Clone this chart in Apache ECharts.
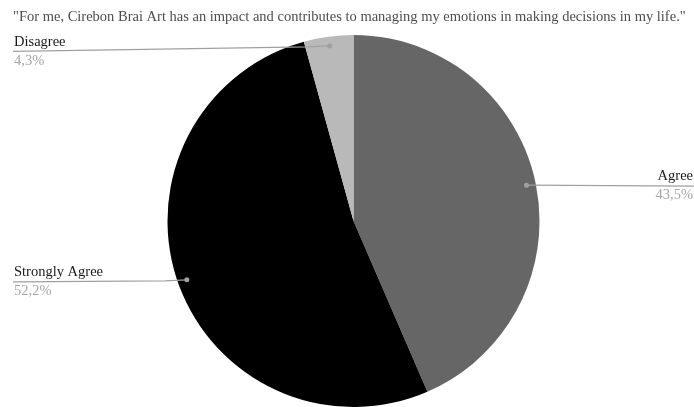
<!DOCTYPE html>
<html>
<head>
<meta charset="utf-8">
<script src="https://cdn.jsdelivr.net/npm/echarts@6/dist/echarts.min.js"></script>
<style>
  html, body { margin: 0; padding: 0; background: #fff; }
  #chart { width: 694px; height: 407px; }
</style>
</head>
<body>
<div id="chart"></div>
<script>
// Survey responses
const titleText = '"For me, Cirebon Brai Art has an impact and contributes to managing my emotions in making decisions in my life."';
const categories = ['Agree', 'Strongly Agree', 'Disagree'];
const percents = [43.5, 52.2, 4.3];
const valueLabels = ['43,5%', '52,2%', '4,3%'];
const sliceColors = ['#666666', '#000000', '#b9b9b9'];

const W = 694;
const cx = 353.5, cy = 221, R = 186;
const LEFT_X = 13;
const FONT = '"Liberation Serif", "Times New Roman", serif';

// Mid angle of each slice, clockwise from 12 o'clock (radians)
const total = percents.reduce((a, b) => a + b, 0);
const midAngles = [];
let acc = 0;
percents.forEach(v => {
  midAngles.push(((acc + v / 2) / total) * 2 * Math.PI);
  acc += v;
});

// Leader geometry: anchor dot inside the slice, then a rule under the label
function leader(i) {
  const a = midAngles[i];
  const d = [cx + 0.95 * R * Math.sin(a), cy - 0.95 * R * Math.cos(a)];
  if (d[0] > cx) {
    const ly = d[1] + 1;
    return { dot: d, right: true, y: ly, pts: [d, [W, ly]] };
  }
  const ly = d[1] + (d[1] < cy - R * 0.8 ? 5.5 : 2);
  return { dot: d, right: false, y: ly, pts: [d, [d[0] - 22, d[1] + 1], [LEFT_X, ly]] };
}

const chart = echarts.init(document.getElementById('chart'), null, { renderer: 'canvas' });

const graphics = [];
categories.forEach((c, i) => {
  const L = leader(i);
  graphics.push({
    type: 'polyline', z: 100,
    shape: { points: L.pts },
    style: { stroke: '#a0a0a0', lineWidth: 1.2, fill: null }
  });
  graphics.push({
    type: 'circle', z: 101,
    shape: { cx: L.dot[0], cy: L.dot[1], r: 2.5 },
    style: { fill: '#a0a0a0' }
  });
});

const option = {
  animation: false,
  backgroundColor: '#ffffff',
  title: {
    text: titleText,
    left: 8,
    top: 5,
    textStyle: { fontFamily: FONT, fontSize: 14.5, fontWeight: 'normal', color: '#4d4d4d' }
  },
  graphic: graphics,
  series: [{
    type: 'pie',
    center: [cx, cy],
    radius: R,
    startAngle: 90,
    clockwise: true,
    avoidLabelOverlap: false,
    data: categories.map((c, i) => ({
      name: c,
      value: percents[i],
      itemStyle: { color: sliceColors[i] }
    })),
    label: {
      show: true,
      formatter: p => '{n|' + p.name + '}\n{v|' + valueLabels[p.dataIndex] + '}',
      rich: {
        n: { fontFamily: FONT, fontSize: 14.5, color: '#1a1a1a', lineHeight: 18, padding: [0, 0, 1, 0] },
        v: { fontFamily: FONT, fontSize: 14.5, color: '#a6a6a6', lineHeight: 18, padding: [1, 0, 0, 0] }
      }
    },
    labelLine: { show: false },
    labelLayout: function (params) {
      const L = leader(params.dataIndex);
      return L.right
        ? { x: W - 1, y: L.y, align: 'right', verticalAlign: 'middle' }
        : { x: LEFT_X + 1, y: L.y, align: 'left', verticalAlign: 'middle' };
    }
  }]
};

chart.setOption(option);
</script>
</body>
</html>
